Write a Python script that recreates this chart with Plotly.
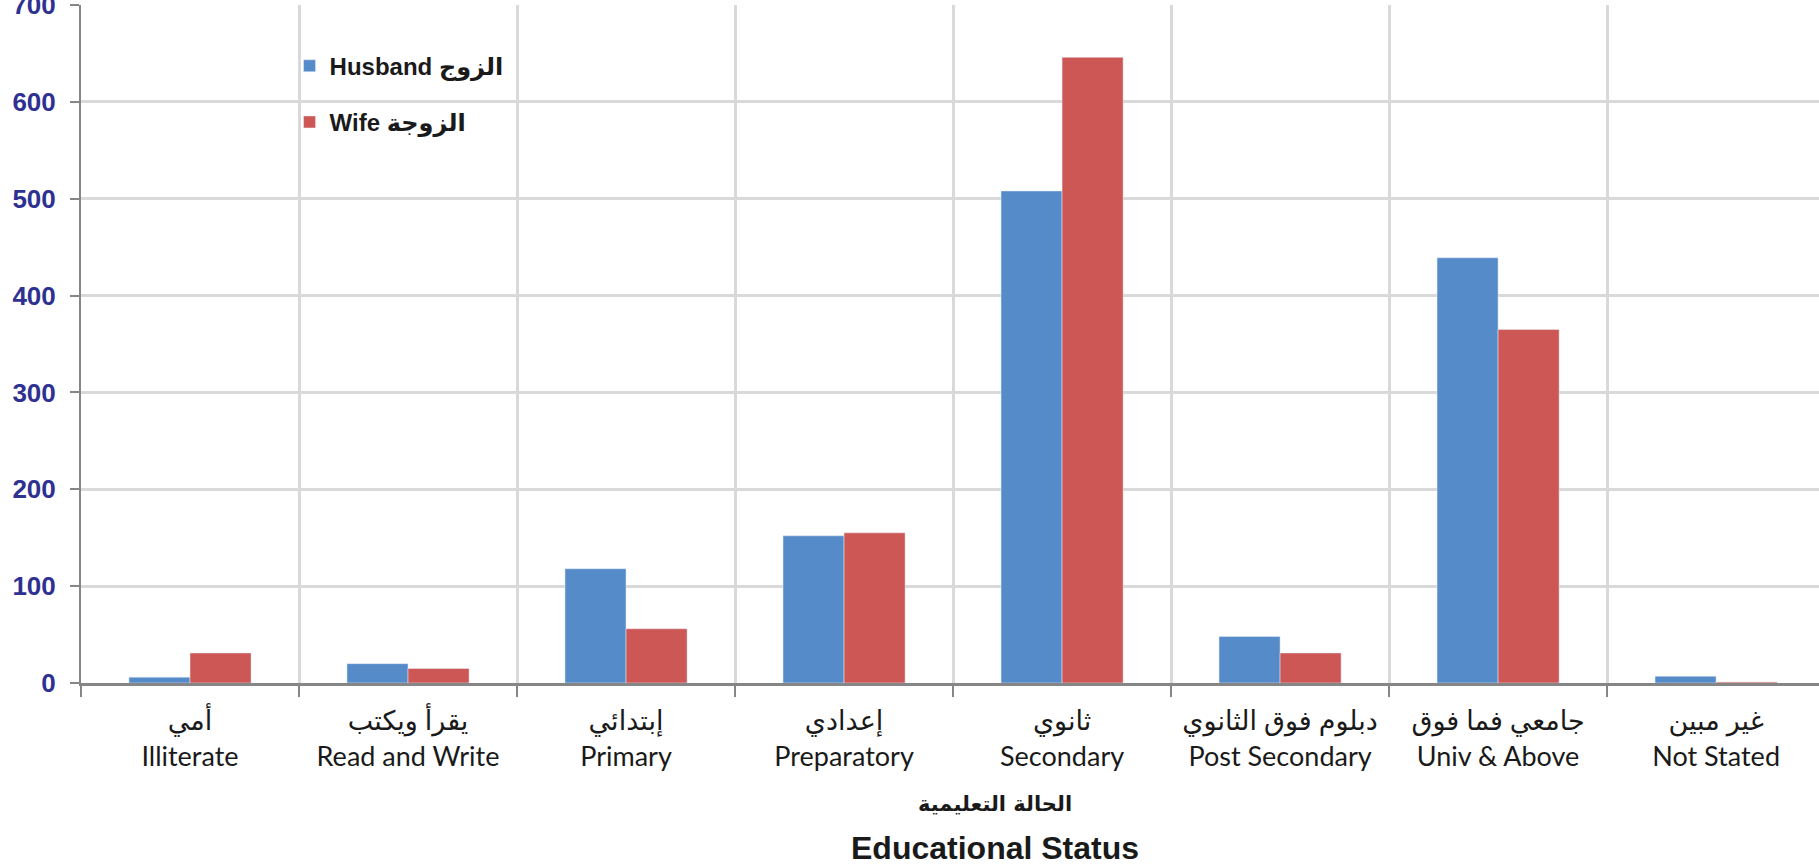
import plotly.graph_objects as go

# categories (Arabic / English)
cat_ar = ["أمي", "يقرأ ويكتب", "إبتدائي", "إعدادي", "ثانوي",
          "دبلوم فوق الثانوي", "جامعي فما فوق", "غير مبين"]
cat_en = ["Illiterate", "Read and Write", "Primary", "Preparatory", "Secondary",
          "Post Secondary", "Univ & Above", "Not Stated"]

husband = [6, 20, 118, 152, 508, 48, 439, 7]
wife = [31, 15, 56, 155, 646, 31, 365, 1]

y_ticks = [0, 100, 200, 300, 400, 500, 600, 700]

labels = [a + "<br>" + e for a, e in zip(cat_ar, cat_en)]

fig = go.Figure()
fig.add_trace(go.Bar(x=cat_en, y=husband, name="Husband الزوج",
                     marker_color="#568BC9", legendgroup="h"))
fig.add_trace(go.Bar(x=cat_en, y=wife, name="Wife الزوجة",
                     marker_color="#CD5755", legendgroup="w"))

fig.update_layout(
    width=1819, height=865,
    margin=dict(l=81, r=0, t=5, b=182),
    paper_bgcolor="white", plot_bgcolor="white",
    barmode="group", bargap=0.44, bargroupgap=0,
    font=dict(family="Liberation Sans, DejaVu Sans", color="#1a1a1a"),
    legend=dict(x=0.12, y=0.943, xanchor="left", yanchor="top",
                bgcolor="rgba(0,0,0,0)", tracegroupgap=22,
                font=dict(family="Liberation Sans, DejaVu Sans", size=24,
                          color="#1a1a1a", weight="bold")),
    showlegend=True,
)

# the chart is cut at the right: last category runs a little past the edge
fig.update_xaxes(
    tickvals=cat_en, ticktext=labels, tickson="boundaries",
    ticks="outside", ticklen=11, tickwidth=2, tickcolor="#868686",
    showline=True, linecolor="#868686", linewidth=3,
    showgrid=True, gridcolor="#D9D9D9", gridwidth=3,
    tickfont=dict(family="Lato, DejaVu Sans", size=27, color="#1a1a1a"),
    ticklabelstandoff=12,
    range=[-0.5, 7.472], automargin=False,
)

fig.update_yaxes(
    range=[0, 700], tickvals=y_ticks,
    ticks="outside", ticklen=9, tickwidth=2, tickcolor="#868686",
    showline=True, linecolor="#868686", linewidth=2,
    showgrid=True, gridcolor="#D9D9D9", gridwidth=3,
    zeroline=False,
    tickfont=dict(family="Liberation Sans", size=26, color="#2E3192", weight="bold"),
    ticklabelstandoff=9, ticklabeloverflow="allow", automargin=False,
)

# axis title (two lines)
fig.add_annotation(text="الحالة التعليمية", xref="paper", yref="paper",
                   x=0.526, y=-0.179, showarrow=False, yanchor="middle",
                   font=dict(family="DejaVu Sans", size=21, color="#1a1a1a", weight="bold"))
fig.add_annotation(text="Educational Status", xref="paper", yref="paper",
                   x=0.526, y=-0.243, showarrow=False, yanchor="middle",
                   font=dict(family="Liberation Sans", size=32, color="#1a1a1a", weight="bold"))

# the page body has a default 8px margin; drop it so the figure sits at the corner
fig.write_html("out.html", config={"displayModeBar": False},
               post_script="document.body.style.margin='0';")
